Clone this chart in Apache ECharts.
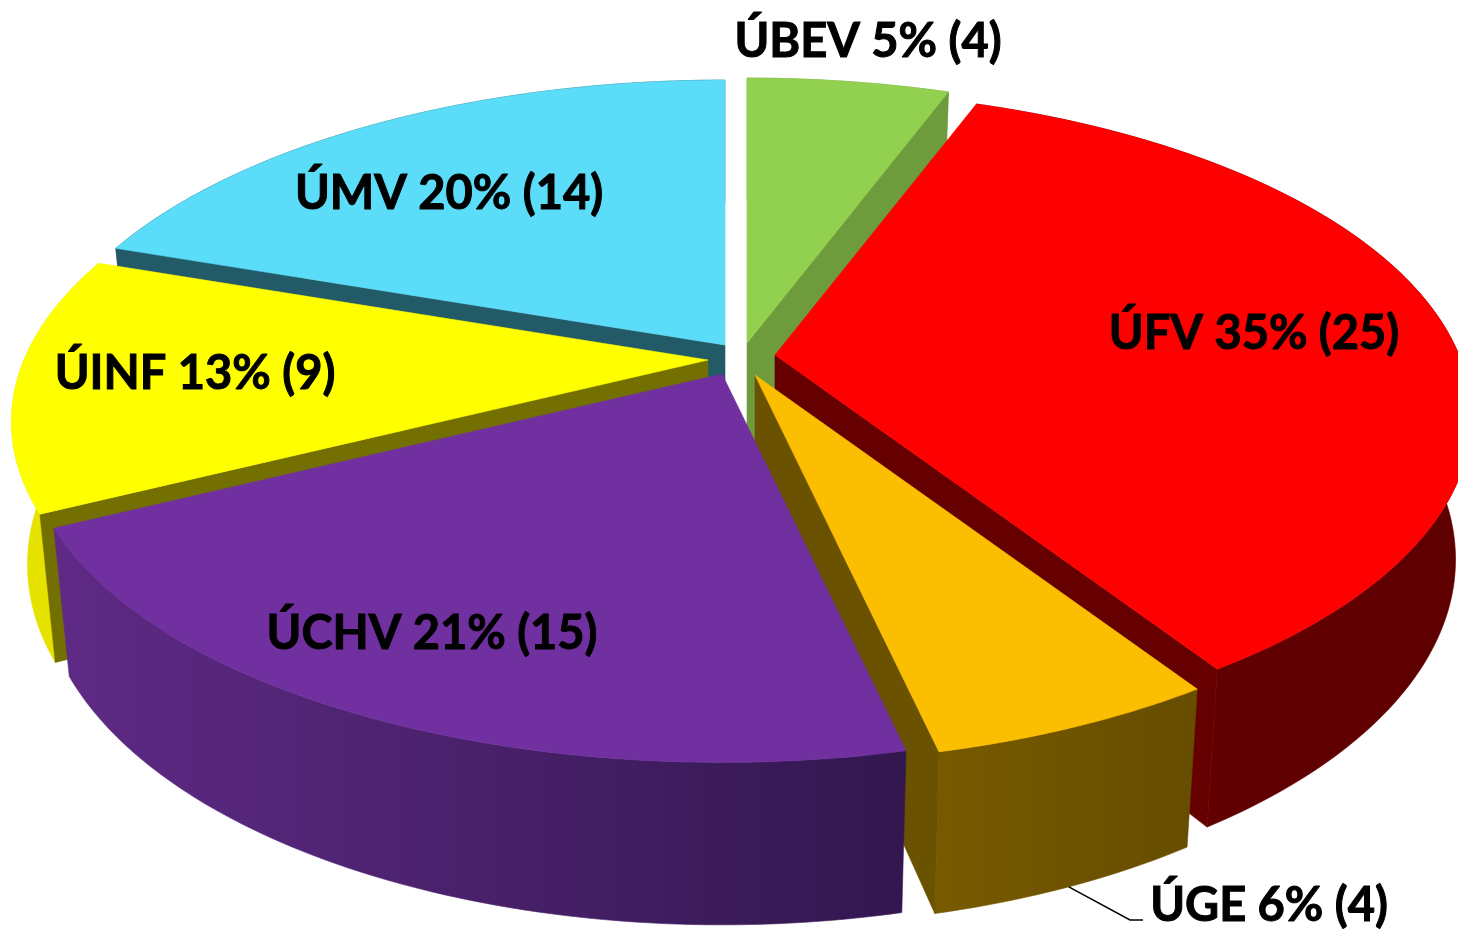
<!DOCTYPE html>
<html>
<head>
<meta charset="utf-8">
<title>Ústavy</title>
<style>
  html, body { margin: 0; padding: 0; background: #fff; }
  #chart { width: 1458px; height: 931px; }
</style>
<script src="https://cdn.jsdelivr.net/npm/echarts@6/dist/echarts.min.js"></script>
</head>
<body>
<div id="chart"></div>
<script>
// data, clockwise from the top
const names = ['ÚBEV', 'ÚFV', 'ÚGE', 'ÚCHV', 'ÚINF', 'ÚMV']
const counts = [4, 25, 4, 15, 9, 14]
const percents = [5, 35, 6, 21, 13, 20]

// styles
const topColors = ['#92D050', '#FF0000', '#FCBE00', '#7030A0', '#FFFF00', '#5BDCF8']
const cutColors = ['#6E9B3C', '#660000', '#6B5200', '#5E2885', '#736F00', '#235A68']
const wallColors = [
  ['#6E9B3C', '#6E9B3C'],
  ['#660000', '#5E0000'],
  ['#775A00', '#664D00'],
  ['#5F2A86', '#32174F'],
  ['#E6E200', '#E6E200'],
  ['#235A68', '#235A68']
]
// exploded offset of each slice's tip, pixels from the pie centre
const explode = [[14, -17], [42, -5], [22, 15], [-11, 14], [-25, 0], [-8, -15]]
// back to front
const drawOrder = [5, 0, 1, 4, 2, 3]
// label centres
const labelPos = [[868, 42], [1254, 334], [1269, 906], [432, 634], [195, 374], [449, 194]]

// projection of the tilted disc
const cx = 733
const cy = 360
const rx = 684
const ry = 315
const persp = 0.189
const thickness = 139
const bottomShrink = 0.977

const total = counts.reduce((a, b) => a + b, 0)
const startAngles = []
counts.reduce((acc, c, i) => {
  startAngles[i] = acc
  return acc + c / total * Math.PI * 2
}, 0)

function project(i, t, r, lower) {
  const X = Math.sin(t) * r
  const Y = Math.cos(t) * r
  const w = 1 / (1 + persp * Y)
  const k = lower ? bottomShrink : 1
  return [
    cx + explode[i][0] + rx * X * w * k,
    cy + explode[i][1] - ry * Y * w * k + (lower ? thickness * w : 0)
  ]
}

function arcPoints(i, t0, t1, lower) {
  const pts = []
  const steps = Math.max(2, Math.ceil((t1 - t0) / (Math.PI / 180)))
  for (let s = 0; s <= steps; s++) {
    pts.push(project(i, t0 + (t1 - t0) * s / steps, 1, lower))
  }
  return pts
}

function poly(points, fill) {
  return {
    type: 'polygon',
    shape: { points: points },
    style: { fill: fill, stroke: fill, lineWidth: 0.6 },
    silent: true
  }
}

function renderSlice(params, api) {
  const i = api.value(0)
  const t0 = startAngles[i]
  const t1 = t0 + api.value(1) / total * Math.PI * 2

  const topArc = arcPoints(i, t0, t1, false)
  const lowArc = arcPoints(i, t0, t1, true)
  const wallPts = topArc.concat(lowArc.slice().reverse())
  const xs = wallPts.map(p => p[0])
  const wallFill = new echarts.graphic.LinearGradient(
    Math.min(...xs), 0, Math.max(...xs), 0,
    [{ offset: 0, color: wallColors[i][0] }, { offset: 1, color: wallColors[i][1] }],
    true
  )
  const tip = project(i, 0, 0, false)
  const tipLow = project(i, 0, 0, true)
  const cut = t => poly([tip, project(i, t, 1, false), project(i, t, 1, true), tipLow], cutColors[i])

  const children = [poly(wallPts, wallFill)]
  // only the cut faces turned towards the viewer
  if (Math.sin(t0) < 0) children.push(cut(t0))
  if (Math.sin(t1) > 0) children.push(cut(t1))
  children.push(poly([tip].concat(topArc), topColors[i]))
  return { type: 'group', children: children }
}

function renderLabel(params, api) {
  const i = api.value(0)
  const children = []
  if (names[i] === 'ÚGE') {
    // leader from the outer wall to the label
    const mid = startAngles[i] + counts[i] / total * Math.PI
    children.push({
      type: 'polyline',
      shape: { points: [project(i, mid, 1, true), [labelPos[i][0] - 139, labelPos[i][1] + 14], [labelPos[i][0] - 126, labelPos[i][1] + 14]] },
      style: { fill: null, stroke: '#000', lineWidth: 1.5 },
      silent: true
    })
  }
  children.push({
    type: 'text',
    x: labelPos[i][0],
    y: labelPos[i][1],
    style: {
      text: names[i] + ' ' + percents[i] + '% (' + counts[i] + ')',
      fill: '#000',
      stroke: '#000',
      lineWidth: 1,
      font: 'bold 47px Lato, "Open Sans", sans-serif',
      align: 'center',
      verticalAlign: 'middle'
    },
    silent: true
  })
  return { type: 'group', children: children }
}

const chart = echarts.init(document.getElementById('chart'), null, { renderer: 'canvas' })
chart.setOption({
  animation: false,
  backgroundColor: '#fff',
  series: [
    {
      type: 'custom',
      coordinateSystem: 'none',
      renderItem: renderSlice,
      data: drawOrder.map(i => [i, counts[i]]),
      z: 2
    },
    {
      type: 'custom',
      coordinateSystem: 'none',
      renderItem: renderLabel,
      data: names.map((n, i) => [i]),
      z: 3
    }
  ]
})
</script>
</body>
</html>
